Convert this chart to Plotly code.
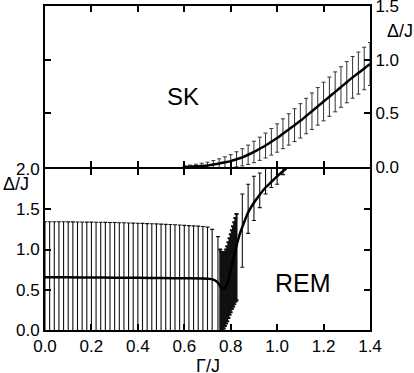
import plotly.graph_objects as go

# --- SK panel (top) ---
sk_x = [0.6, 0.625, 0.65, 0.675, 0.7, 0.725, 0.75, 0.775, 0.8, 0.825, 0.85, 0.875,
        0.9, 0.925, 0.95, 0.975, 1.0, 1.025, 1.05, 1.075, 1.1, 1.125, 1.15, 1.175,
        1.2, 1.225, 1.25, 1.275, 1.3, 1.325, 1.35, 1.375, 1.4]
sk_gap = [0.0, 0.003, 0.006, 0.01, 0.015, 0.023, 0.032, 0.043, 0.055, 0.072, 0.09, 0.114,
          0.14, 0.17, 0.2, 0.235, 0.27, 0.31, 0.35, 0.39, 0.43, 0.475, 0.52, 0.565,
          0.61, 0.655, 0.70, 0.745, 0.79, 0.835, 0.875, 0.918, 0.96]
sk_err = [0.01, 0.015, 0.02, 0.025, 0.03, 0.037, 0.044, 0.052, 0.06, 0.07, 0.08, 0.09,
          0.1, 0.108, 0.116, 0.124, 0.132, 0.139, 0.146, 0.153, 0.16, 0.165, 0.17, 0.175,
          0.18, 0.183, 0.186, 0.189, 0.192, 0.194, 0.196, 0.198, 0.2]

# --- REM panel (bottom) ---
rem_curve_x = [0.0, 0.1, 0.2, 0.3, 0.4, 0.5, 0.6, 0.68, 0.71, 0.73, 0.74, 0.75, 0.76,
               0.77, 0.78, 0.79, 0.80, 0.81, 0.82, 0.83, 0.84, 0.85, 0.875, 0.9, 0.925,
               0.95, 0.975, 1.0, 1.02, 1.04]
rem_curve_y = [0.655, 0.655, 0.652, 0.65, 0.648, 0.645, 0.642, 0.64, 0.635, 0.62, 0.60,
               0.565, 0.525, 0.51, 0.54, 0.62, 0.74, 0.87, 0.99, 1.10, 1.20, 1.28, 1.46,
               1.58, 1.68, 1.77, 1.84, 1.91, 1.96, 2.01]

# error bars as (x, top, bottom); three groups: plateau, dense region near 0.8, tail
rem_bar_x = [0.0, 0.02, 0.04, 0.06, 0.08, 0.1, 0.12, 0.14, 0.16, 0.18, 0.2, 0.22, 0.24,
             0.26, 0.28, 0.3, 0.32, 0.34, 0.36, 0.38, 0.4, 0.42, 0.44, 0.46, 0.48, 0.5,
             0.52, 0.54, 0.56, 0.58, 0.6, 0.62, 0.64, 0.66, 0.68, 0.7, 0.72, 0.745,
             0.755, 0.76, 0.765, 0.77, 0.775, 0.78, 0.785, 0.79, 0.795, 0.8, 0.805,
             0.81, 0.815, 0.82, 0.825,
             0.85, 0.875, 0.9, 0.925, 0.95, 0.975, 1.0, 1.025]
rem_bar_hi = [1.345, 1.345, 1.345, 1.344, 1.344, 1.343, 1.343, 1.342, 1.341, 1.34, 1.34,
              1.339, 1.338, 1.337, 1.336, 1.335, 1.333, 1.332, 1.33, 1.328, 1.326, 1.324,
              1.322, 1.32, 1.318, 1.315, 1.312, 1.31, 1.307, 1.304, 1.30, 1.297, 1.293,
              1.29, 1.285, 1.278, 1.25, 1.16,
              1.00, 0.97, 0.955, 0.96, 0.97, 1.00, 1.04, 1.09, 1.14, 1.19, 1.24,
              1.29, 1.34, 1.39, 1.44,
              1.69, 1.81, 1.91, 1.95, 2.05, 2.1, 2.1, 2.15]
rem_bar_lo = [-0.05] * 38 + [
              -0.02, -0.02, -0.01, 0.02, 0.05, 0.08, 0.11, 0.15, 0.19, 0.22, 0.26,
              0.29, 0.32, 0.35, 0.37,
              0.78, 1.20, 1.36, 1.52, 1.69, 1.77, 1.81, 1.93]

x_ticks = [0.0, 0.2, 0.4, 0.6, 0.8, 1.0, 1.2, 1.4]
sk_ticks = [0.0, 0.5, 1.0, 1.5]
rem_ticks = [0.0, 0.5, 1.0, 1.5, 2.0]

FONT = "Liberation Sans, Arial, sans-serif"

rem_mid = [(h + l) / 2 for h, l in zip(rem_bar_hi, rem_bar_lo)]
rem_half = [(h - l) / 2 for h, l in zip(rem_bar_hi, rem_bar_lo)]

fig = go.Figure()

# top panel
fig.add_trace(go.Scatter(
    x=sk_x, y=sk_gap, mode="markers", marker=dict(size=0.1, color="rgba(0,0,0,0)"),
    error_y=dict(type="data", array=sk_err, color="#333333", thickness=1, width=2),
    xaxis="x2", yaxis="y2", showlegend=False, hoverinfo="skip"))
fig.add_trace(go.Scatter(
    x=sk_x, y=sk_gap, mode="lines", line=dict(color="black", width=2.5, shape="spline"),
    xaxis="x2", yaxis="y2", showlegend=False))

# bottom panel, error bars in three groups (the dense group drawn thicker so it fills in)
groups = [(0, 38, 1.1), (38, 53, 2.0), (53, len(rem_bar_x), 1.1)]
for start, stop, thick in groups:
    fig.add_trace(go.Scatter(
        x=rem_bar_x[start:stop], y=rem_mid[start:stop], mode="markers",
        marker=dict(size=0.1, color="rgba(0,0,0,0)"),
        error_y=dict(type="data", array=rem_half[start:stop], color="#111111",
                     thickness=thick, width=2),
        xaxis="x", yaxis="y", showlegend=False, hoverinfo="skip"))
fig.add_trace(go.Scatter(
    x=rem_curve_x, y=rem_curve_y, mode="lines",
    line=dict(color="black", width=2.5, shape="spline", smoothing=0.5),
    xaxis="x", yaxis="y", showlegend=False))

axis_common = dict(showline=True, linecolor="black", linewidth=2, mirror="ticks",
                   ticks="inside", ticklen=6, tickwidth=2, tickcolor="black",
                   showgrid=False, zeroline=False, automargin=False,
                   ticklabeloverflow="allow",
                   tickfont=dict(family=FONT, size=17, color="black"))

half_gap = 1.0 / 324  # so the two middle axis lines land on the same pixels

label_font = dict(family=FONT, size=18, color="black")

fig.update_layout(
    width=414, height=373,
    margin=dict(l=45, r=44, t=6, b=43),
    plot_bgcolor="white", paper_bgcolor="white",
    font=dict(family=FONT, color="black"),
    xaxis=dict(axis_common, range=[0, 1.4], tickvals=x_ticks, ticktext=[f"{v:.1f}" for v in x_ticks],
               anchor="y", domain=[0, 1]),
    yaxis=dict(axis_common, range=[0, 2.0], tickvals=rem_ticks, ticktext=[f"{v:.1f}" for v in rem_ticks],
               domain=[0, 0.5 - half_gap], anchor="x"),
    xaxis2=dict(axis_common, range=[0, 1.4], tickvals=x_ticks, showticklabels=False,
                anchor="y2", domain=[0, 1]),
    yaxis2=dict(axis_common, range=[0, 1.5], tickvals=sk_ticks, ticktext=[f"{v:.1f}" for v in sk_ticks],
                domain=[0.5 + half_gap, 1], anchor="x2", side="right"),
    annotations=[
        dict(text="SK", x=0.595, y=0.66, xref="x2", yref="y2", showarrow=False,
             xanchor="center", yanchor="middle",
             font=dict(family=FONT, size=24, color="black")),
        dict(text="REM", x=1.11, y=0.59, xref="x", yref="y", showarrow=False,
             xanchor="center", yanchor="middle",
             font=dict(family=FONT, size=25, color="black")),
        dict(text="Δ/J", x=1.092, y=0.922, xref="paper", yref="paper", showarrow=False,
             xanchor="center", yanchor="middle", font=label_font),
        dict(text="Δ/J", x=-0.09, y=0.45, xref="paper", yref="paper", showarrow=False,
             xanchor="center", yanchor="middle", font=label_font),
        dict(text="Γ/J", x=0.5, y=-0.11, xref="paper", yref="paper", showarrow=False,
             xanchor="center", yanchor="middle", font=label_font),
    ],
)

# page body has a default 8px margin; drop it so the figure sits at the top-left corner
fig.write_html("out.html", config={"displayModeBar": False},
               post_script="document.body.style.margin='0';")
